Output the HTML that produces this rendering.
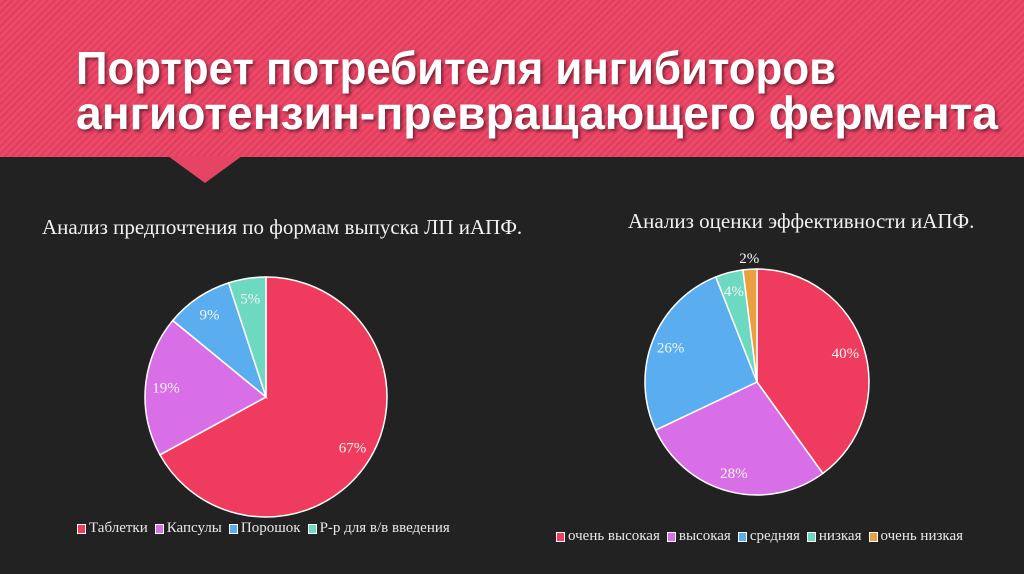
<!DOCTYPE html>
<html><head><meta charset="utf-8">
<style>
html,body{margin:0;padding:0;}
body{width:1024px;height:574px;overflow:hidden;background:#222222;position:relative;font-family:"Liberation Serif",serif;}
#hdr{position:absolute;left:0;top:0;width:1024px;height:157px;background:repeating-linear-gradient(135deg,#ec4868 0 3px,#e03e5f 3px 5px);}
#notch{position:absolute;left:168px;top:156px;width:0;height:0;border-left:37px solid transparent;border-right:37px solid transparent;border-top:27px solid #e64465;}
.ctitle{position:absolute;color:#f2f2f2;font-size:21px;white-space:nowrap;}
.leg{position:absolute;color:#e8e8e8;font-size:15px;white-space:nowrap;display:flex;align-items:center;}
.leg span.sw{display:inline-block;width:7px;height:8px;border:1px solid #fff;margin:0 3px 0 7px;}
</style></head><body>
<div id="hdr"></div>
<div id="notch"></div>
<svg style="position:absolute;left:0;top:0" width="1024" height="160">
<text x="76" y="84" font-family="Liberation Sans, sans-serif" font-weight="bold" font-size="46" fill="#fff" textLength="760" lengthAdjust="spacingAndGlyphs" style="text-shadow:2px 2px 3px rgba(0,0,0,0.5)">Портрет потребителя ингибиторов</text>
<text x="76" y="129" font-family="Liberation Sans, sans-serif" font-weight="bold" font-size="46" fill="#fff" textLength="922" lengthAdjust="spacingAndGlyphs" style="text-shadow:2px 2px 3px rgba(0,0,0,0.5)">ангиотензин-превращающего фермента</text>
</svg>
<div class="ctitle" style="left:42px;top:215px">Анализ предпочтения по формам выпуска ЛП иАПФ.</div>
<div class="ctitle" style="left:628px;top:209px">Анализ оценки эффективности иАПФ.</div>
<svg id="pies" style="position:absolute;left:0;top:0" width="1024" height="574"></svg>
<div class="leg" style="left:70px;top:520px">
<span class="sw" style="background:#ef3b5d"></span>Таблетки
<span class="sw" style="background:#d86fe6"></span>Капсулы
<span class="sw" style="background:#5aaef0"></span>Порошок
<span class="sw" style="background:#6dd9c0"></span>Р-р для в/в введения
</div>
<div class="leg" style="left:549px;top:528px">
<span class="sw" style="background:#ef3b5d"></span>очень высокая
<span class="sw" style="background:#d86fe6"></span>высокая
<span class="sw" style="background:#5aaef0"></span>средняя
<span class="sw" style="background:#6dd9c0"></span>низкая
<span class="sw" style="background:#e8a040"></span>очень низкая
</div>
<script>
const pie1Categories = ["Таблетки","Капсулы","Порошок","Р-р для в/в введения"];
const pie1Values = [67,19,9,5];
const pie2Categories = ["очень высокая","высокая","средняя","низкая","очень низкая"];
const pie2Values = [40,28,26,4,2];
const colors = ["#ef3b5d","#d86fe6","#5aaef0","#6dd9c0","#e8a040"];
const NS="http://www.w3.org/2000/svg";
const svg=document.getElementById('pies');
function drawPie(cats,vals,cx,cy,rx,ry,prefix){
  const total=vals.reduce((a,b)=>a+b,0);
  let acc=0;
  vals.forEach((v,i)=>{
    const a0=acc/total*2*Math.PI, a1=(acc+v)/total*2*Math.PI;
    acc+=v;
    const x0=cx+rx*Math.sin(a0), y0=cy-ry*Math.cos(a0);
    const x1=cx+rx*Math.sin(a1), y1=cy-ry*Math.cos(a1);
    const large=(a1-a0)>Math.PI?1:0;
    const p=document.createElementNS(NS,'path');
    p.setAttribute('d',`M${cx},${cy} L${x0},${y0} A${rx},${ry} 0 ${large} 1 ${x1},${y1} Z`);
    p.setAttribute('fill',colors[i]);
    p.setAttribute('stroke','#fff');
    p.setAttribute('stroke-width','1.5');
    
    
    svg.appendChild(p);
    const am=(a0+a1)/2;
    const pct=v/total*100;
    const f=pct<3?1.1:0.83;
    const t=document.createElementNS(NS,'text');
    t.setAttribute('x',cx+rx*f*Math.sin(am));
    t.setAttribute('y',cy-ry*f*Math.cos(am)+5);
    t.setAttribute('text-anchor','middle');
    t.setAttribute('font-family','Liberation Serif, serif');
    t.setAttribute('font-size','15');
    t.setAttribute('fill','#f4f4f4');
    t.textContent=Math.round(pct)+'%';
    
    
    svg.appendChild(t);
  });
}
drawPie(pie1Categories,pie1Values,266,397,121,120,'p1');
drawPie(pie2Categories,pie2Values,757,382,112,113,'p2');
</script>
</body></html>
